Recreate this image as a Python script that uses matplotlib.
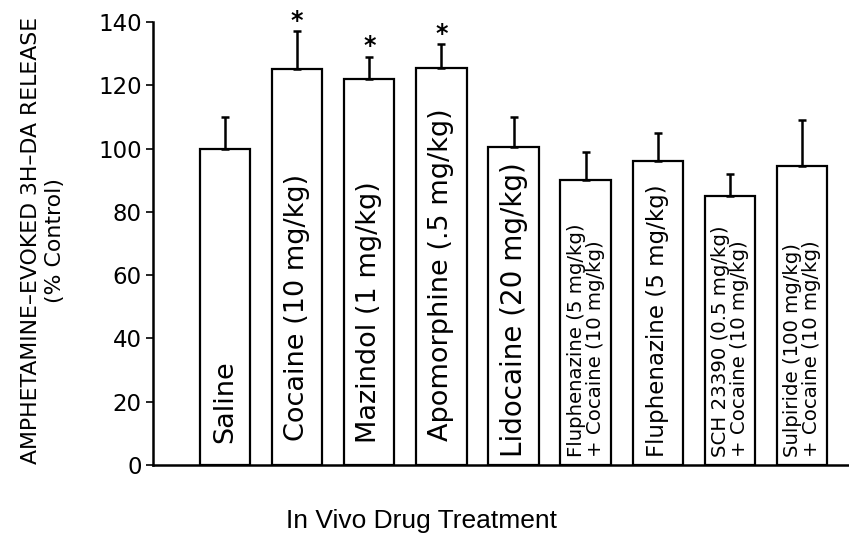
import numpy as np
import matplotlib
matplotlib.use("Agg")
import matplotlib.pyplot as plt
from matplotlib import font_manager

# --- data ---
treatments = ["Saline", "Cocaine (10 mg/kg)", "Mazindol (1 mg/kg)",
              "Apomorphine (.5 mg/kg)", "Lidocaine (20 mg/kg)",
              "Fluphenazine (5 mg/kg)\n+ Cocaine (10 mg/kg)",
              "Fluphenazine (5 mg/kg)",
              "SCH 23390 (0.5 mg/kg)\n+ Cocaine (10 mg/kg)",
              "Sulpiride (100 mg/kg)\n+ Cocaine (10 mg/kg)"]
release = [100, 125, 122, 125.5, 100.5, 90, 96, 85, 94.5]
sem = [10, 12, 7, 7.5, 9.5, 9, 9, 7, 14.5]
significant = [False, True, True, True, False, False, False, False, False]
yticks = [0, 20, 40, 60, 80, 100, 120, 140]

# --- layout (label start height and font size per bar) ---
label_base = [7, 7.5, 7, 7.5, 2.5, 2.5, 2.5, 2.5, 2.5]
label_size = [19.5, 19.5, 19.5, 19.5, 20, 14.2, 16.5, 14.2, 14.2]

names = {f.name for f in font_manager.fontManager.ttflist}
narrow = "Liberation Sans Narrow" if "Liberation Sans Narrow" in names else "Liberation Sans"
xlab_size = 22 if narrow == "Liberation Sans Narrow" else 19

fig = plt.figure(figsize=(8.49, 5.35), dpi=100)
ax = fig.add_axes([0.180, 0.131, 0.820, 0.828])

x = np.arange(len(treatments))
ax.bar(x, release, width=0.70, color="white", edgecolor="black", linewidth=1.6, zorder=2)
ax.errorbar(x, release, yerr=[np.zeros(len(sem)), sem], fmt="none", ecolor="black",
            elinewidth=1.8, capsize=2.8, capthick=1.8, zorder=3)

for xi, lab, base, fs in zip(x, treatments, label_base, label_size):
    ax.text(xi, base, lab, rotation=90, ha="center", va="bottom",
            multialignment="left", fontsize=fs, linespacing=1.0, zorder=4)

for xi, m, s, sig in zip(x, release, sem, significant):
    if sig:
        ax.text(xi, m + s - 0.5, "*", ha="center", va="bottom", fontsize=17,
                fontweight="bold", clip_on=False)

ax.set_xlim(-1.0, 8.65)
ax.set_ylim(0, 140)
ax.set_yticks(yticks)
ax.set_xticks([])
ax.tick_params(axis="y", direction="out", length=5, width=1.2, pad=3, labelsize=16.5)
for side in ("top", "right"):
    ax.spines[side].set_visible(False)
ax.spines["left"].set_linewidth(1.8)
ax.spines["bottom"].set_linewidth(1.8)

fig.text(0.051, 0.55, "AMPHETAMINE\u2013EVOKED 3H\u2013DA RELEASE\n(% Control)",
         rotation=90, ha="center", va="center", multialignment="center",
         fontsize=15.8, linespacing=1.25)
fig.text(0.496, 0.027, "In Vivo Drug Treatment", ha="center", va="center",
         fontsize=xlab_size, family=narrow)

fig.savefig("out.png", dpi=100)
